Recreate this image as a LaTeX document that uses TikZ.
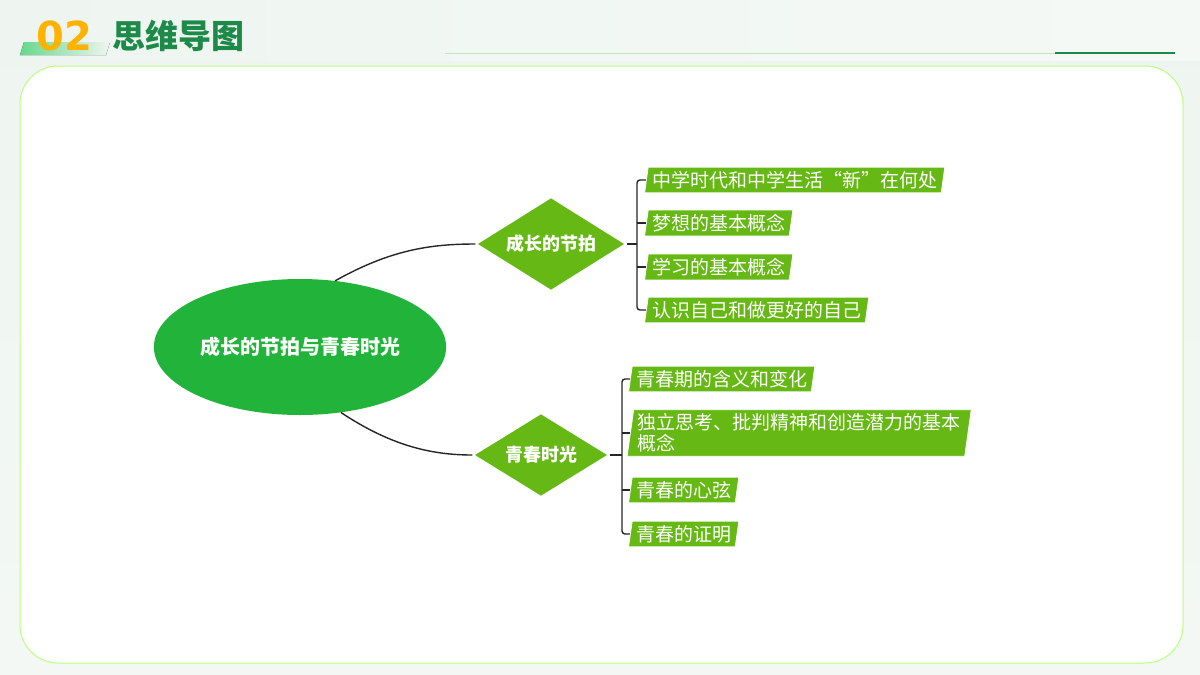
\documentclass[tikz,border=0pt]{standalone}
\usepackage{fontspec}
\newfontfamily\cjk{Noto Sans CJK SC}
\usetikzlibrary{shapes.geometric}
\definecolor{leafg}{HTML}{66B814}
\definecolor{ellg}{HTML}{22B43A}
\definecolor{bgg}{HTML}{EEF5F0}
\definecolor{dkg}{HTML}{1E8A4A}
\tikzset{
 leaf/.style={fill=leafg,draw=white,line width=0.8pt,text=white,anchor=west,inner xsep=4pt,inner ysep=4pt,font=\cjk\fontsize{19}{21}\selectfont,align=left,
   trapezium, trapezium left angle=82, trapezium right angle=98, trapezium stretches body},
 dia/.style={diamond,fill=leafg,draw=white,line width=1.5pt,text=white,font=\cjk\bfseries\fontsize{18}{19}\selectfont,aspect=1.6,inner sep=0pt},
 conn/.style={draw=black!85,line width=1.4pt},
}
\begin{document}
\begin{tikzpicture}[x=1pt,y=-1pt]
\useasboundingbox (0,0) rectangle (1200,675);
\shade[top color=bgg,bottom color=bgg!70!white] (0,0) rectangle (1200,675);
\fill[left color=bgg,right color=bgg!60!white] (0,0) rectangle (1200,60);
% header
\fill[left color=green!50!teal!60,right color=bgg] (24,42) -- (110,42) -- (106,55) -- (20,55) -- cycle;
\node[anchor=west,text=orange!60!yellow,font=\fontspec{DejaVu Sans}\bfseries\fontsize{40}{40}\selectfont,inner sep=0] (num) at (36,36) {02};
\node[anchor=west,text=dkg,font=\cjk\bfseries\fontsize{33}{33}\selectfont,inner sep=0] (ttl) at (112,36) {思维导图};
\draw[green!40!gray!35,line width=0.7pt] (445,53) -- (1175,53);
\draw[dkg,line width=2.5pt] (1055,53) -- (1175,53);
% panel
\draw[fill=white,draw=green!40!lime!50,line width=1pt,rounded corners=38] (20,66) rectangle (1183,663);
% nodes
\node[ellipse,fill=ellg,minimum width=270,minimum height=136,text=white,font=\cjk\bfseries\fontsize{20}{22}\selectfont] (root) at (300,347) {成长的节拍与青春时光};
\node[dia,minimum width=150,minimum height=94] (d1) at (551,244) {成长的节拍};
\node[dia,minimum width=136,minimum height=84] (d2) at (541,455) {青春时光};
\draw[conn] (root.62) .. controls (390,250) and (430,244) .. (d1.west);
\draw[conn] (root.-58) .. controls (390,445) and (430,455) .. (d2.west);
% leaves 1
\node[leaf] (a1) at (646,180) {中学时代和中学生活“新”在何处};
\node[leaf] (a2) at (646,223) {梦想的基本概念};
\node[leaf] (a3) at (646,267) {学习的基本概念};
\node[leaf] (a4) at (646,310) {认识自己和做更好的自己};
\coordinate (j1) at (637,244);
\draw[conn] (d1.east) -- (j1);
\draw[conn,rounded corners=3] (a1.west) -- (637,180) -- (637,310) -- (a4.west);
\draw[conn] (637,223) -- (a2.west);
\draw[conn] (637,267) -- (a3.west);
% leaves 2
\node[leaf] (b1) at (630,379) {青春期的含义和变化};
\node[leaf] (b2) at (630,433) {独立思考、批判精神和创造潜力的基本\\概念};
\node[leaf] (b3) at (630,490) {青春的心弦};
\node[leaf] (b4) at (630,534) {青春的证明};
\coordinate (j2) at (622,455);
\draw[conn] (d2.east) -- (j2);
\draw[conn,rounded corners=3] (b1.west) -- (622,379) -- (622,534) -- (b4.west);
\draw[conn] (622,433) -- (b2.west);
\draw[conn] (622,490) -- (b3.west);
\end{tikzpicture}
\end{document}
